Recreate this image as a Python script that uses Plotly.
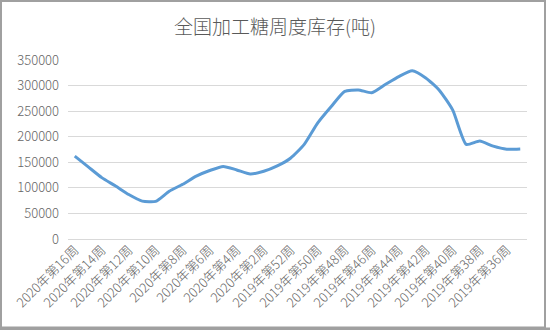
import plotly.graph_objects as go

categories = [
    "2020年第16周", "2020年第15周", "2020年第14周", "2020年第13周", "2020年第12周",
    "2020年第11周", "2020年第10周", "2020年第9周", "2020年第8周", "2020年第7周",
    "2020年第6周", "2020年第5周", "2020年第4周", "2020年第3周", "2020年第2周",
    "2020年第1周", "2019年第52周", "2019年第51周", "2019年第50周", "2019年第49周",
    "2019年第48周", "2019年第47周", "2019年第46周", "2019年第45周", "2019年第44周",
    "2019年第43周", "2019年第42周", "2019年第41周", "2019年第40周", "2019年第39周",
    "2019年第38周", "2019年第37周", "2019年第36周", "2019年第35周",
]
stock = [
    162000, 141000, 120000, 104000, 87000, 74000, 73500, 93500, 107000, 123000,
    134000, 142000, 135000, 127000, 132500, 143000, 158500, 185000, 227000, 259000,
    288500, 291500, 286000, 302000, 317500, 329000, 315000, 291000, 252000, 185000,
    191500, 181500, 175500, 176000,
]
y_ticks = [0, 50000, 100000, 150000, 200000, 250000, 300000, 350000]
title_text = "全国加工糖周度库存(吨)"

W, H = 550, 330
L, R, T, B = 68, 23, 60, 91
pw, ph = W - L - R, H - T - B

font_family = "Noto Sans CJK SC, Liberation Sans, sans-serif"
gray_text = "#666666"

fig = go.Figure()
fig.add_trace(go.Scatter(
    x=categories, y=stock, mode="lines",
    line=dict(color="#5B9BD5", width=3, shape="spline", smoothing=0.55),
    hoverinfo="x+y", showlegend=False,
))


def px_x(p):
    return (p - L) / pw


def px_y(p):
    return (H - B - p) / ph


fig.update_layout(
    width=W, height=H,
    margin=dict(l=L, r=R, t=T, b=B),
    paper_bgcolor="white", plot_bgcolor="white",
    font=dict(family=font_family, color=gray_text, size=12, weight=300),
    title=dict(text=title_text, x=0.5, xanchor="center",
               y=1 - 27 / H, yanchor="middle", yref="container",
               font=dict(size=19, color="#595959", family=font_family, weight=300)),
    xaxis=dict(
        type="category", range=[-0.5, len(categories) - 0.5],
        tickmode="array", tickvals=categories[::2], ticktext=categories[::2],
        tickangle=-45, tickfont=dict(size=13, color=gray_text, weight=300),
        showgrid=False, showline=False, zeroline=False, ticks="",
        fixedrange=True,
    ),
    yaxis=dict(
        range=[0, 350000], tickmode="array", tickvals=y_ticks,
        ticktext=[str(v) for v in y_ticks],
        tickfont=dict(size=13, color=gray_text, weight=300),
        showgrid=True, gridcolor="#d9d9d9", gridwidth=1,
        zeroline=True, zerolinecolor="#d9d9d9", zerolinewidth=1,
        showline=False, ticks="", ticklabelstandoff=8,
        fixedrange=True,
    ),
    shapes=[
        dict(type="rect", xref="paper", yref="paper", layer="above",
             x0=px_x(1), x1=px_x(545), y0=px_y(1), y1=px_y(327.5),
             line=dict(color="#a0a0a0", width=2), fillcolor="rgba(0,0,0,0)"),
        dict(type="rect", xref="paper", yref="paper", layer="above",
             x0=px_x(0), x1=px_x(550), y0=px_y(327.5), y1=px_y(330),
             line=dict(width=0), fillcolor="#a0a0a0"),
    ],
)

fig.write_html("out.html")
